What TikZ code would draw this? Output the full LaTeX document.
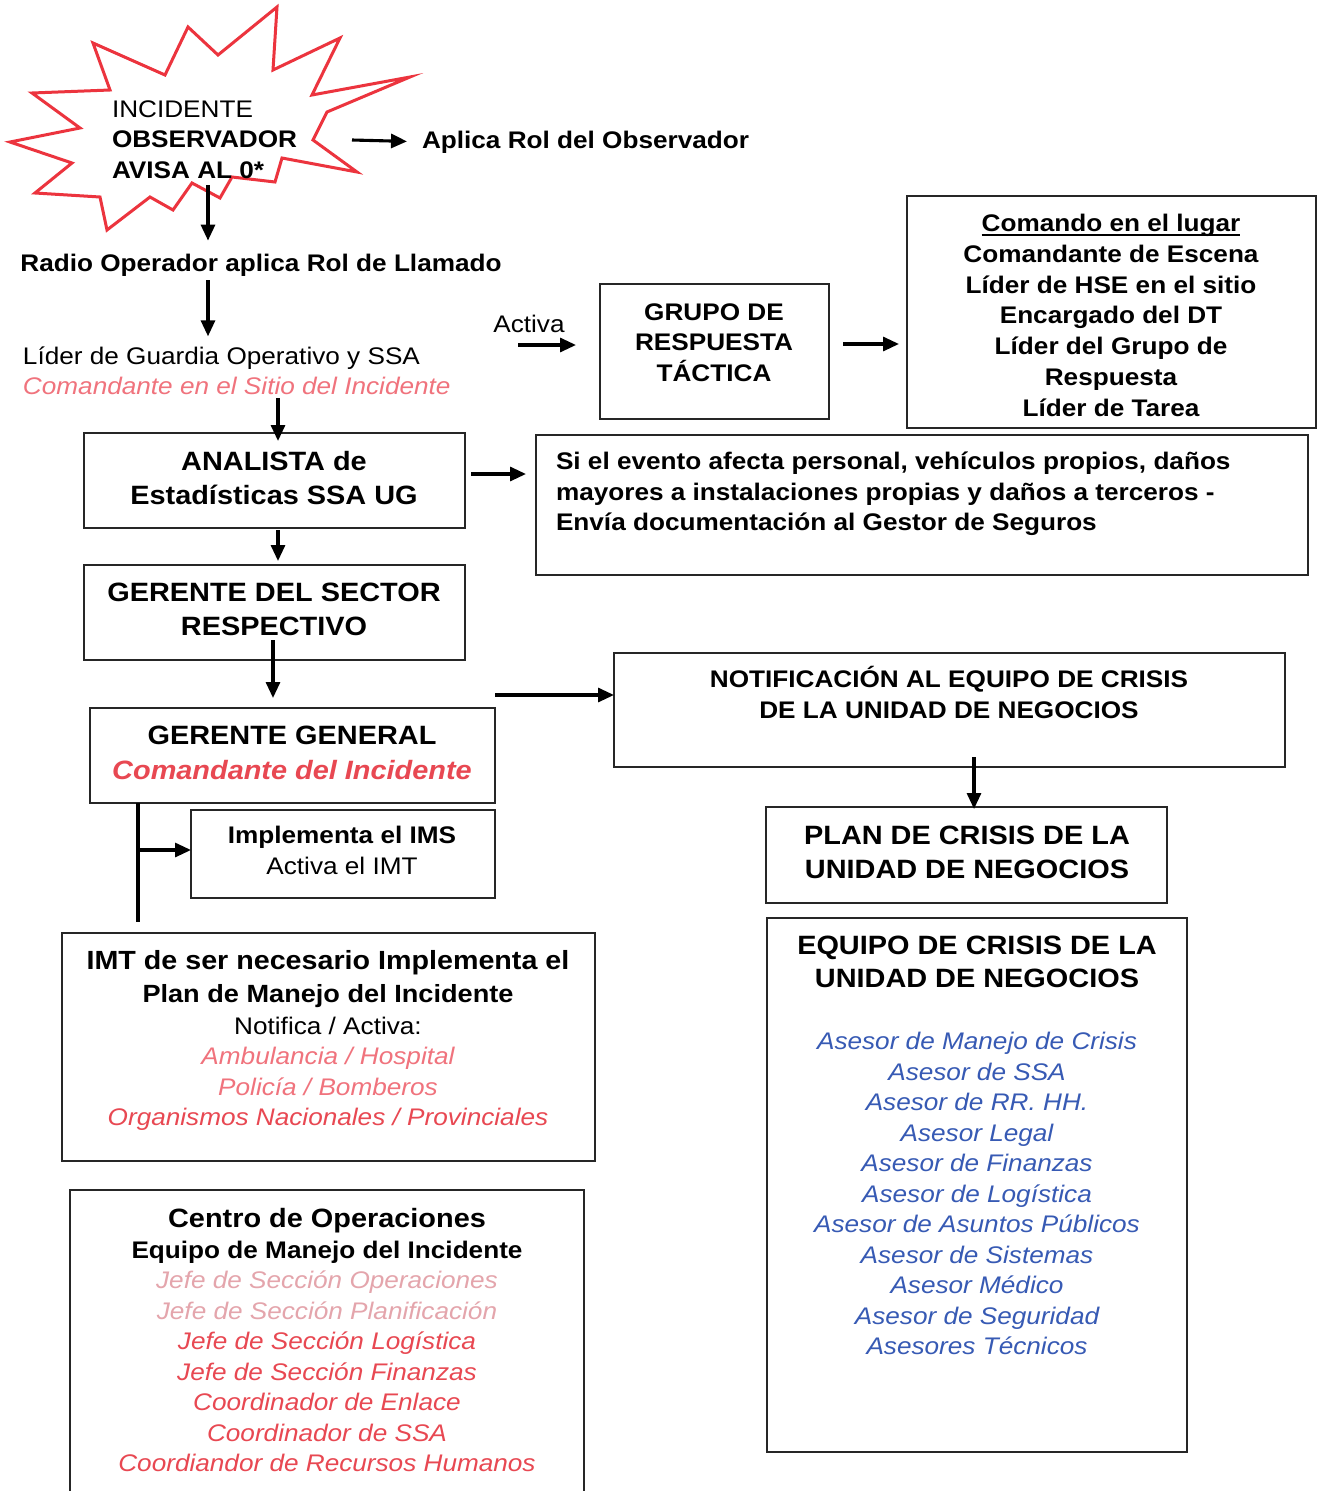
\documentclass[tikz,border=0pt]{standalone}
\usepackage{fontspec}
\setmainfont{Liberation Sans}[FakeStretch=1.09]
\usetikzlibrary{arrows.meta}
\definecolor{redtxt}{RGB}{232,72,82}
\definecolor{pinktxt}{RGB}{240,115,125}
\definecolor{fadetxt}{RGB}{228,165,172}
\definecolor{bluetxt}{RGB}{55,90,180}
\definecolor{starred}{RGB}{236,52,62}
\newsavebox\myulbox
\newcommand{\myul}[1]{\sbox\myulbox{#1}\usebox\myulbox\llap{\rule[-4pt]{\wd\myulbox}{1.7pt}}}
\begin{document}
\begin{tikzpicture}[x=1pt,y=-1pt,
  box/.style={draw=black!85,line width=1.5pt,inner sep=0pt,outer sep=0pt,anchor=north west},
  arr/.style={line width=3.1pt,-{Triangle[length=16pt,width=14pt]}},
  plainline/.style={line width=3.1pt},
  txt/.style={inner sep=0pt,outer sep=0pt,align=center,anchor=base},
  ltxt/.style={inner sep=0pt,outer sep=0pt,align=left,anchor=base west},
  fA/.style={font=\fontsize{24}{30.5}\selectfont},
  fH/.style={font=\fontsize{26.5}{34}\selectfont\bfseries},
  fN/.style={font=\fontsize{24}{30.7}\selectfont}]
\useasboundingbox (0,0) rectangle (1323,1491);
\clip (0,0) rectangle (1323,1491);
\fill[white] (0,0) rectangle (1323,1491);

% starburst
\draw[starred,line width=3pt,line join=miter] (10,142) -- (80,128) -- (32,93) -- (110,90) -- (93,43) -- (165,75) -- (188,27) -- (218,55) -- (277,7) -- (273,70) -- (340,38) -- (312,95) -- (410,77) -- (327,112) -- (313,140) -- (357,172) -- (282,158) -- (275,182) -- (232,177) -- (220,198) -- (192,183) -- (173,210) -- (150,197) -- (107,230) -- (100,197) -- (35,193) -- (72,163) -- cycle;
\node[ltxt,fA] (star) at (112,178) {INCIDENTE\\\bfseries OBSERVADOR\\\bfseries AVISA AL 0*};

\node[ltxt,fA] (aplica) at (422,148) {\bfseries Aplica Rol del Observador};
\node[txt,fA] (radio) at (261,271) {\bfseries Radio Operador aplica Rol de Llamado};
\node[ltxt,fA] (lider) at (23,394.5) {Líder de Guardia Operativo y SSA\\\itshape\color{pinktxt}Comandante en el Sitio del Incidente};
\node[txt,fN] (activa) at (529,332) {Activa};

% boxes
\node[box,minimum width=229pt,minimum height=135pt] (grupo) at (600,284) {};
\node[txt,fN,font=\fontsize{24}{30.7}\selectfont\bfseries] (grupot) at (714,381.5) {GRUPO DE\\RESPUESTA\\TÁCTICA};
\node[box,minimum width=409pt,minimum height=232pt] (comando) at (907,196) {};
\node[txt,fN,font=\fontsize{24}{30.7}\selectfont\bfseries] (comandot) at (1111,416) {\myul{Comando en el lugar}\\Comandante de Escena\\Líder de HSE en el sitio\\Encargado del DT\\Líder del Grupo de\\Respuesta\\Líder de Tarea};

\node[box,minimum width=381pt,minimum height=95pt] (analista) at (84,433) {};
\node[txt,fH] (analistat) at (274,504.5) {ANALISTA de\\Estadísticas SSA UG};
\node[box,minimum width=772pt,minimum height=140pt] (evento) at (536,435) {};
\node[ltxt,fA] (eventot) at (556,530.6) {\bfseries Si el evento afecta personal, vehículos propios, daños\\\bfseries mayores a instalaciones propias y daños a terceros -\\\bfseries Envía documentación al Gestor de Seguros};

\node[box,minimum width=381pt,minimum height=95pt] (sector) at (84,565) {};
\node[txt,fH] (sectort) at (274,635.5) {GERENTE DEL SECTOR\\RESPECTIVO};

\node[box,minimum width=405pt,minimum height=95pt] (gg) at (90,708) {};
\node[txt,font=\fontsize{26.5}{35}\selectfont\bfseries] (ggt) at (292,779.5) {GERENTE GENERAL\\\color{redtxt}\itshape Comandante del Incidente};

\node[box,minimum width=671pt,minimum height=114pt] (notif) at (614,653) {};
\node[txt,fA] (notift) at (949,718.1) {\bfseries NOTIFICACIÓN AL EQUIPO DE CRISIS\\\bfseries DE LA UNIDAD DE NEGOCIOS};

\node[box,minimum width=401pt,minimum height=96pt] (plan) at (766,807) {};
\node[txt,fH] (plant) at (967,878.5) {PLAN DE CRISIS DE LA\\UNIDAD DE NEGOCIOS};

\node[box,minimum width=420pt,minimum height=534pt] (equipo) at (767,918) {};
\node[txt,font=\fontsize{26.5}{33}\selectfont\bfseries] (equipot) at (977,987.5) {EQUIPO DE CRISIS DE LA\\UNIDAD DE NEGOCIOS};
\node[txt,font=\fontsize{24}{30.5}\selectfont\itshape,text=bluetxt] (asesores) at (977,1354.6) {Asesor de Manejo de Crisis\\Asesor de SSA\\Asesor de RR. HH.\\Asesor Legal\\Asesor de Finanzas\\Asesor de Logística\\Asesor de Asuntos Públicos\\Asesor de Sistemas\\Asesor Médico\\Asesor de Seguridad\\Asesores Técnicos};

\node[box,minimum width=304pt,minimum height=88pt] (impl) at (191,810) {};
\node[txt,font=\fontsize{24}{31}\selectfont] (implt) at (342,874.6) {\bfseries Implementa el IMS\\Activa el IMT};

\node[box,minimum width=533pt,minimum height=228pt] (imt) at (62,933) {};
\node[txt,font=\fontsize{26.3}{33}\selectfont\bfseries] (imth) at (328,1002.2) {IMT de ser necesario Implementa el\\\fontsize{24.9}{33}\selectfont Plan de Manejo del Incidente};
\node[txt,font=\fontsize{24}{30.3}\selectfont] (imtb) at (328,1125.5) {Notifica / Activa:\\\color{pinktxt}\itshape Ambulancia / Hospital\\\color{pinktxt}\itshape Policía / Bomberos\\\color{redtxt}\itshape Organismos Nacionales / Provinciales};

\node[box,minimum width=514pt,minimum height=330pt] (centro) at (70,1190) {};
\node[txt,fH] (centroh) at (327,1227.5) {Centro de Operaciones};
\node[txt,fA] (centroh2) at (327,1258.6) {\bfseries Equipo de Manejo del Incidente};
\node[txt,font=\fontsize{24}{30.5}\selectfont\itshape] (centrob) at (327,1471.6) {\color{fadetxt}Jefe de Sección Operaciones\\\color{fadetxt}Jefe de Sección Planificación\\\color{redtxt}Jefe de Sección Logística\\\color{redtxt}Jefe de Sección Finanzas\\\color{redtxt}Coordinador de Enlace\\\color{redtxt}Coordinador de SSA\\\color{redtxt}Coordiandor de Recursos Humanos};

% connector end points
\coordinate (sR) at (352,140);
\coordinate (sB) at (208,185);
\coordinate (rB) at (208,280);
\coordinate (lB) at (278,398);
\coordinate (aS) at (518,345);
\coordinate (gS) at (843,344);
\coordinate (anS) at (471,474);
\coordinate (secS) at (273,640);
\coordinate (ggS) at (495,695);
\coordinate (nB) at (974,757);
\coordinate (vT) at (138,803);
\coordinate (vB) at (138,922);
\coordinate (vM) at (138,850);

% connectors
\draw[arr] (sR) -- (aplica.west) [shorten >=15pt];
\draw[arr] (sB) -- (sB |- radio.north) [shorten >=13pt];
\draw[arr] (rB) -- (rB |- lider.north) [shorten >=10pt];
\draw[arr] (lB) -- ([yshift=-8pt]lB |- analista.north);
\draw[arr] (aS) -- (aS -| grupo.west) [shorten >=24pt];
\draw[arr] (gS) -- (gS -| comando.west) [shorten >=8pt];
\draw[arr] (anS) -- (anS -| evento.west) [shorten >=10pt];
\draw[arr] ([xshift=3.5pt]analista.south) -- ([xshift=3.5pt]sector.north) [shorten <=2pt,shorten >=4pt];
\draw[arr] (secS) -- (secS |- gg.north) [shorten >=10pt];
\draw[arr] (ggS) -- (ggS -| notif.west);
\draw[arr] (nB) -- (nB |- plan.north) [shorten >=-2pt];
\draw[plainline] (vT) -- (vB);
\draw[arr] (vM) -- (vM -| impl.west);
\end{tikzpicture}
\end{document}
